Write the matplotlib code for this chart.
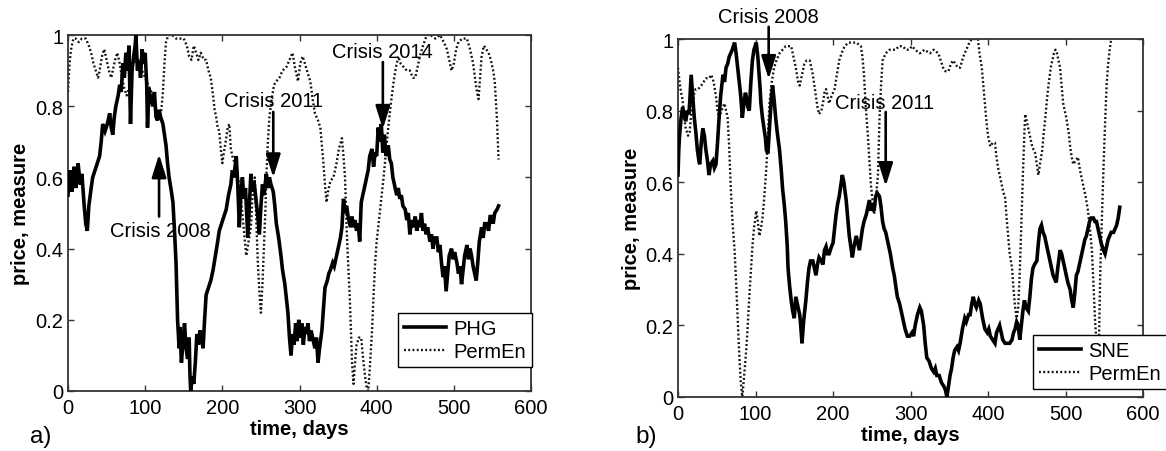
import matplotlib
matplotlib.use("Agg")
import matplotlib.pyplot as plt

plt.rcParams['font.family'] = ['Liberation Sans', 'DejaVu Sans']

# ---------------- data (day, value) ----------------
phg = [(0,0.55),(3,0.62),(5,0.56),(8,0.63),(10,0.57),(13,0.64),(16,0.58),(18,0.61),(21,0.52),(23,0.47),
       (25,0.45),(27,0.52),(30,0.57),(32,0.60),(35,0.62),(38,0.64),(41,0.66),(43,0.70),(45,0.75),(48,0.73),
       (51,0.75),(54,0.78),(56,0.74),(58,0.72),(60,0.77),(62,0.80),(65,0.83),(67,0.86),(69,0.84),(71,0.92),
       (73,0.88),(75,0.95),(77,0.90),(79,0.97),(81,0.75),(83,0.90),(85,0.94),(87,0.97),(88,1.0),(90,0.90),
       (92,0.93),(94,0.88),(96,0.96),(98,0.92),(100,0.95),(102,0.86),(103,0.74),(105,0.85),(107,0.82),(110,0.80),
       (112,0.84),(114,0.77),(116,0.76),(118,0.79),(120,0.77),(123,0.75),(125,0.72),(127,0.69),(129,0.64),(131,0.60),
       (134,0.56),(136,0.53),(138,0.45),(140,0.36),(141,0.28),(142,0.20),(144,0.12),(145,0.18),(147,0.08),(149,0.14),
       (151,0.19),(153,0.12),(155,0.09),(157,0.15),(158,0.05),(159,0.0),(161,0.04),(163,0.02),(165,0.08),(167,0.16),
       (169,0.13),(171,0.17),(173,0.15),(175,0.12),(177,0.20),(179,0.27),(182,0.29),(185,0.31),(188,0.34),(191,0.38),
       (194,0.42),(196,0.45),(199,0.47),(202,0.49),(205,0.51),(208,0.55),(211,0.58),(213,0.62),(215,0.60),(218,0.66),
       (220,0.58),(222,0.46),(224,0.55),(226,0.60),(228,0.54),(230,0.57),(233,0.43),(235,0.52),(237,0.61),(239,0.56),
       (241,0.59),(244,0.53),(246,0.49),(248,0.44),(250,0.52),(252,0.58),(254,0.55),(257,0.61),(259,0.57),(261,0.60),
       (263,0.58),(266,0.56),(268,0.52),(270,0.47),(273,0.43),(276,0.38),(278,0.34),(281,0.30),(283,0.26),(285,0.22),
       (287,0.15),(289,0.10),(291,0.16),(293,0.13),(295,0.19),(297,0.14),(299,0.20),(301,0.15),(303,0.19),(305,0.13),
       (307,0.18),(309,0.16),(311,0.19),(313,0.14),(315,0.17),(318,0.14),(320,0.12),(322,0.15),(324,0.08),(326,0.12),
       (329,0.17),(331,0.23),(333,0.29),(336,0.31),(338,0.33),(340,0.34),(343,0.36),(345,0.35),(348,0.38),(350,0.40),
       (353,0.43),(355,0.46),(357,0.54),(359,0.50),(361,0.52),(363,0.49),(366,0.46),(368,0.49),(370,0.46),(372,0.48),
       (374,0.45),(376,0.47),(378,0.42),(380,0.53),(382,0.55),(385,0.58),(387,0.60),(389,0.62),(391,0.66),(394,0.68),
       (396,0.63),(398,0.67),(400,0.66),(402,0.74),(404,0.70),(406,0.75),(408,0.67),(410,0.72),(412,0.66),(415,0.69),
       (417,0.65),(419,0.64),(421,0.60),(424,0.57),(426,0.55),(428,0.57),(430,0.54),(432,0.55),(434,0.52),(437,0.51),
       (439,0.48),(441,0.50),(443,0.44),(445,0.48),(447,0.46),(450,0.49),(452,0.45),(454,0.48),(456,0.46),(458,0.50),
       (460,0.45),(462,0.47),(464,0.44),(466,0.46),(469,0.42),(471,0.44),(473,0.40),(475,0.43),(478,0.43),(480,0.39),
       (482,0.41),(484,0.36),(486,0.32),(488,0.35),(490,0.28),(492,0.33),(494,0.38),(497,0.40),(499,0.37),(501,0.39),
       (504,0.36),(506,0.33),(508,0.35),(510,0.30),(512,0.34),(514,0.38),(517,0.41),(519,0.37),(521,0.40),(523,0.38),
       (525,0.35),(527,0.33),(529,0.31),(531,0.36),(533,0.42),(536,0.46),(538,0.43),(540,0.47),(543,0.47),(545,0.45),
       (547,0.49),(549,0.49),(551,0.47),(553,0.50),(556,0.51),(558,0.52)]

permen_a = [(0,0.84),(2,0.92),(4,0.96),(7,0.99),(10,0.99),(14,0.98),(18,0.99),(23,0.99),(27,0.97),(30,0.95),
            (33,0.92),(36,0.90),(39,0.88),(41,0.90),(44,0.94),(47,0.96),(50,0.93),(53,0.90),(56,0.88),(58,0.90),
            (61,0.93),(64,0.95),(67,0.92),(70,0.88),(73,0.85),(76,0.83),(79,0.85),(82,0.89),(85,0.93),(88,0.92),
            (92,0.91),(96,0.90),(100,0.88),(104,0.86),(108,0.84),(112,0.81),(116,0.78),(119,0.77),(121,0.79),(123,0.84),
            (125,0.92),(127,0.98),(130,1.0),(135,1.0),(140,0.99),(145,0.99),(150,0.99),(154,0.97),(157,0.94),(160,0.93),
            (163,0.97),(166,0.95),(169,0.93),(172,0.95),(176,0.93),(179,0.93),(182,0.90),(185,0.88),(188,0.83),(190,0.79),
            (192,0.77),(194,0.74),(196,0.73),(198,0.68),(200,0.64),(202,0.67),(205,0.71),(207,0.74),(209,0.75),(211,0.68),
            (213,0.66),(216,0.64),(219,0.61),(222,0.58),(225,0.52),(228,0.45),(231,0.38),(234,0.42),(237,0.46),(239,0.54),
            (242,0.60),(244,0.48),(246,0.36),(248,0.28),(250,0.22),(252,0.30),(254,0.41),(256,0.52),(257,0.60),(259,0.70),
            (261,0.77),(264,0.82),(267,0.86),(270,0.87),(274,0.88),(278,0.90),(283,0.91),(287,0.93),(291,0.95),(294,0.91),
            (298,0.87),(301,0.92),(304,0.94),(307,0.92),(311,0.89),(314,0.87),(317,0.82),(320,0.78),(324,0.76),(327,0.74),
            (329,0.69),(331,0.64),(333,0.58),(335,0.53),(337,0.56),(340,0.59),(344,0.60),(348,0.64),(351,0.68),(355,0.71),
            (357,0.66),(359,0.60),(361,0.46),(363,0.36),(365,0.27),(367,0.15),(368,0.08),(370,0.02),(372,0.08),(374,0.13),
            (377,0.15),(380,0.15),(382,0.10),(385,0.04),(387,0.01),(389,0.0),(391,0.06),(394,0.17),(396,0.27),(398,0.36),
            (400,0.42),(402,0.46),(405,0.52),(409,0.60),(412,0.67),(415,0.74),(418,0.80),(422,0.87),(425,0.91),(428,0.94),
            (431,0.92),(435,0.91),(439,0.90),(443,0.90),(447,0.88),(450,0.88),(453,0.91),(456,0.94),(460,0.97),(465,1.0),
            (470,1.0),(476,0.99),(482,1.0),(487,0.98),(491,0.96),(494,0.93),(497,0.90),(500,0.92),(503,0.96),(506,0.98),
            (511,0.99),(517,0.99),(521,0.96),(525,0.92),(528,0.87),(530,0.84),(532,0.82),(534,0.88),(536,0.94),(539,0.97),
            (542,0.96),(545,0.95),(548,0.93),(551,0.90),(553,0.87),(555,0.80),(556,0.76),(557,0.70),(558,0.65)]

sne = [(0,0.62),(1,0.69),(2,0.73),(4,0.78),(6,0.81),(8,0.79),(10,0.77),(12,0.80),(14,0.79),(15,0.82),
       (17,0.90),(19,0.84),(21,0.78),(23,0.74),(25,0.69),(27,0.66),(28,0.65),(30,0.71),(32,0.75),(34,0.73),
       (36,0.69),(38,0.66),(40,0.62),(42,0.65),(45,0.66),(47,0.64),(49,0.65),(51,0.71),(53,0.78),(55,0.84),
       (58,0.90),(60,0.88),(62,0.92),(64,0.93),(66,0.95),(68,0.96),(70,0.97),(73,0.99),(75,0.96),(77,0.92),
       (79,0.88),(81,0.84),(83,0.78),(85,0.82),(87,0.85),(88,0.84),(90,0.81),(92,0.80),(94,0.88),(96,0.94),
       (98,0.97),(101,0.99),(103,0.95),(104,0.92),(106,0.86),(107,0.82),(109,0.78),(111,0.75),(113,0.72),(114,0.69),
       (116,0.68),(118,0.75),(120,0.82),(122,0.87),(124,0.83),(126,0.78),(128,0.74),(131,0.69),(133,0.64),(135,0.58),
       (137,0.54),(139,0.49),(141,0.42),(142,0.36),(144,0.31),(146,0.27),(148,0.24),(150,0.22),(152,0.28),(154,0.26),
       (157,0.23),(158,0.21),(160,0.15),(162,0.21),(165,0.27),(167,0.32),(169,0.36),(171,0.38),(174,0.38),(176,0.36),
       (178,0.34),(180,0.37),(182,0.39),(185,0.38),(187,0.37),(189,0.41),(191,0.42),(193,0.40),(195,0.40),(198,0.42),
       (200,0.43),(202,0.47),(204,0.51),(206,0.54),(208,0.56),(210,0.59),(212,0.62),(214,0.60),(217,0.55),(219,0.50),
       (221,0.45),(223,0.42),(225,0.39),(227,0.42),(230,0.45),(232,0.43),(234,0.41),(236,0.44),(238,0.47),(240,0.49),
       (243,0.51),(245,0.53),(247,0.55),(249,0.52),(251,0.54),(253,0.52),(255,0.56),(257,0.57),(260,0.56),(262,0.53),
       (264,0.49),(266,0.47),(268,0.46),(271,0.43),(274,0.40),(277,0.36),(279,0.34),(281,0.31),(283,0.28),(286,0.26),
       (288,0.24),(290,0.22),(293,0.19),(296,0.17),(299,0.17),(302,0.18),(304,0.17),(306,0.20),(309,0.23),(312,0.25),
       (314,0.24),(317,0.20),(319,0.15),(321,0.11),(324,0.10),(327,0.08),(330,0.07),(332,0.08),(334,0.06),(337,0.06),
       (340,0.04),(343,0.03),(345,0.02),(347,0.0),(349,0.03),(351,0.06),(353,0.08),(355,0.11),(357,0.13),(360,0.14),
       (362,0.13),(364,0.15),(367,0.19),(370,0.22),(372,0.21),(375,0.23),(377,0.23),(379,0.26),(381,0.28),(383,0.26),
       (385,0.25),(388,0.27),(390,0.26),(393,0.22),(396,0.19),(399,0.18),(401,0.19),(403,0.17),(406,0.16),(409,0.15),
       (411,0.18),(413,0.19),(415,0.20),(417,0.18),(419,0.16),(422,0.15),(425,0.15),(428,0.15),(431,0.16),(433,0.18),
       (435,0.19),(437,0.21),(439,0.20),(441,0.16),(443,0.20),(445,0.24),(447,0.27),(449,0.25),(452,0.24),(454,0.28),
       (456,0.33),(458,0.36),(460,0.37),(463,0.38),(465,0.43),(467,0.47),(469,0.48),(471,0.46),(473,0.45),(476,0.42),
       (478,0.40),(480,0.38),(482,0.36),(484,0.34),(486,0.33),(488,0.32),(490,0.36),(493,0.41),(495,0.40),(497,0.38),
       (499,0.36),(501,0.34),(503,0.32),(506,0.30),(508,0.27),(510,0.25),(512,0.29),(514,0.34),(516,0.35),(519,0.38),
       (521,0.40),(523,0.42),(525,0.44),(527,0.45),(529,0.47),(531,0.49),(533,0.50),(536,0.50),(538,0.49),(540,0.49),
       (542,0.47),(544,0.45),(546,0.43),(549,0.41),(551,0.40),(553,0.42),(555,0.44),(557,0.45),(559,0.46),(562,0.46),
       (564,0.47),(566,0.48),(568,0.50),(570,0.53)]

permen_b = [(0,0.92),(2,0.88),(4,0.85),(6,0.83),(8,0.78),(10,0.75),(13,0.73),(15,0.74),(17,0.79),(19,0.82),
            (21,0.85),(23,0.86),(26,0.86),(30,0.87),(33,0.88),(36,0.89),(40,0.89),(43,0.90),(46,0.88),(49,0.84),
            (51,0.80),(53,0.78),(56,0.80),(60,0.82),(62,0.80),(64,0.78),(66,0.70),(68,0.59),(70,0.50),(73,0.41),
            (75,0.32),(77,0.22),(79,0.12),(81,0.04),(83,0.0),(85,0.05),(88,0.13),(90,0.20),(92,0.28),(94,0.35),
            (96,0.42),(98,0.47),(101,0.52),(103,0.49),(105,0.45),(107,0.47),(109,0.50),(111,0.55),(114,0.64),(116,0.73),
            (118,0.82),(121,0.88),(124,0.92),(127,0.94),(131,0.96),(135,0.97),(139,0.98),(143,0.98),(146,0.98),(149,0.95),
            (152,0.92),(155,0.88),(157,0.87),(160,0.90),(163,0.93),(166,0.94),(170,0.94),(172,0.92),(174,0.90),(176,0.87),
            (178,0.84),(180,0.81),(182,0.79),(185,0.80),(187,0.82),(189,0.85),(191,0.86),(193,0.84),(195,0.82),(198,0.84),
            (202,0.86),(205,0.90),(208,0.94),(211,0.96),(215,0.98),(220,0.99),(225,0.99),(230,0.99),(236,0.98),(238,0.95),
            (240,0.90),(242,0.82),(245,0.73),(247,0.66),(249,0.59),(251,0.55),(253,0.51),(255,0.55),(258,0.62),(260,0.78),
            (262,0.87),(264,0.94),(268,0.96),(273,0.97),(277,0.97),(281,0.97),(285,0.98),(290,0.98),(294,0.97),(298,0.97),
            (302,0.98),(306,0.97),(312,0.96),(318,0.97),(325,0.96),(330,0.97),(336,0.96),(339,0.94),(342,0.92),(345,0.91),
            (349,0.91),(352,0.93),(355,0.94),(358,0.93),(361,0.92),(364,0.92),(368,0.95),(372,0.97),(376,0.99),(379,1.0),
            (383,1.0),(387,1.0),(389,0.96),(392,0.92),(394,0.87),(396,0.82),(398,0.77),(400,0.73),(403,0.70),(406,0.71),
            (409,0.71),(411,0.67),(413,0.64),(416,0.61),(418,0.59),(420,0.57),(422,0.56),(424,0.50),(426,0.45),(428,0.40),
            (431,0.36),(433,0.30),(435,0.25),(437,0.22),(439,0.25),(441,0.35),(443,0.48),(445,0.62),(447,0.74),(448,0.79),
            (450,0.77),(452,0.75),(455,0.72),(457,0.70),(459,0.69),(461,0.68),(463,0.65),(465,0.62),(467,0.65),(470,0.69),
            (472,0.74),(474,0.78),(476,0.83),(478,0.87),(481,0.92),(485,0.96),(487,0.97),(489,0.96),(491,0.94),(493,0.92),
            (495,0.87),(497,0.82),(499,0.80),(501,0.78),(504,0.74),(506,0.70),(508,0.67),(510,0.65),(513,0.66),(516,0.67),
            (519,0.63),(521,0.61),(523,0.59),(526,0.56),(529,0.52),(532,0.46),(534,0.41),(536,0.32),(538,0.22),(540,0.15),
            (542,0.10),(543,0.14),(545,0.36),(547,0.50),(549,0.64),(551,0.76),(553,0.87),(555,0.93),(557,0.97),(559,1.0)]

x_ticks = [0, 100, 200, 300, 400, 500, 600]
y_ticks = [0, 0.2, 0.4, 0.6, 0.8, 1.0]
y_tick_labels = ['0', '0.2', '0.4', '0.6', '0.8', '1']
legend_a = ['PHG', 'PermEn']
legend_b = ['SNE', 'PermEn']

# ---------------- figure ----------------
W, H = 1166, 452
fig = plt.figure(figsize=(W / 100, H / 100), dpi=100)

def px_rect(x0, y0, x1, y1):
    return [x0 / W, 1 - y1 / H, (x1 - x0) / W, (y1 - y0) / H]

ax_a = fig.add_axes(px_rect(68, 36, 531, 392))
ax_b = fig.add_axes(px_rect(678, 40, 1143, 398))

FS = 14.5
frame_col = '#333333'

def style(ax):
    ax.set_xlim(0, 600)
    ax.set_ylim(0, 1)
    ax.set_xticks(x_ticks)
    ax.set_yticks(y_ticks)
    ax.set_yticklabels(y_tick_labels)
    ax.tick_params(direction='in', top=True, right=True, length=4.5, width=1.0,
                   color=frame_col, labelsize=FS)
    ax.tick_params(axis='x', pad=5)
    ax.tick_params(axis='y', pad=3.5)
    for s in ax.spines.values():
        s.set_linewidth(1.3)
        s.set_color(frame_col)

def draw(ax, solid, dotted, labels, leg_xy):
    d1, v1 = zip(*solid)
    d2, v2 = zip(*dotted)
    l1, = ax.plot(d1, v1, color='black', lw=2.6, solid_joinstyle='miter', zorder=3)
    l2, = ax.plot(d2, v2, color='#111111', lw=1.7, linestyle=(0, (0.8, 1.0)), zorder=2)
    style(ax)
    leg = ax.legend([l1, l2], labels, loc='upper left',
                    bbox_to_anchor=(leg_xy[0] / W, 1 - leg_xy[1] / H),
                    bbox_transform=fig.transFigure, fontsize=FS, frameon=True,
                    fancybox=False, edgecolor='black', framealpha=1,
                    borderaxespad=0, borderpad=0.3, handlelength=2.1,
                    handletextpad=0.33, labelspacing=0.2)
    leg.get_frame().set_linewidth(1.0)
    leg.set_zorder(10)

draw(ax_a, phg, permen_a, legend_a, (398, 314))
draw(ax_b, sne, permen_b, legend_b, (1033, 336))

arrow_kw = dict(arrowstyle='-|>,head_length=0.7,head_width=0.22', lw=1.9,
                color='black', shrinkA=0, shrinkB=0, mutation_scale=20)

def crisis(ax, text, tx, ty, x, y_tail, y_tip):
    ax.text(tx, ty, text, ha='center', va='center', fontsize=FS, zorder=6, clip_on=False)
    ax.annotate('', xy=(x, y_tip), xytext=(x, y_tail), arrowprops=arrow_kw,
                annotation_clip=False, zorder=6)

crisis(ax_a, 'Crisis 2008', 120, 0.452, 118, 0.49, 0.665)
crisis(ax_a, 'Crisis 2011', 266, 0.815, 266, 0.784, 0.60)
crisis(ax_a, 'Crisis 2014', 408, 0.955, 408, 0.924, 0.736)
crisis(ax_b, 'Crisis 2008', 117, 1.064, 117, 1.034, 0.888)
crisis(ax_b, 'Crisis 2011', 267, 0.824, 268, 0.796, 0.589)

# axis labels and panel letters
fig.text(299.5 / W, 1 - 430 / H, 'time, days', ha='center', va='center', fontsize=FS, fontweight='bold')
fig.text(910 / W, 1 - 436 / H, 'time, days', ha='center', va='center', fontsize=FS, fontweight='bold')
fig.text(21 / W, 1 - 214 / H, 'price, measure', ha='center', va='center', rotation=90, fontsize=FS, fontweight='bold')
fig.text(631 / W, 1 - 219 / H, 'price, measure', ha='center', va='center', rotation=90, fontsize=FS, fontweight='bold')
fig.text(41 / W, 1 - 437 / H, 'a)', ha='center', va='center', fontsize=17.5)
fig.text(646 / W, 1 - 437 / H, 'b)', ha='center', va='center', fontsize=17.5)

fig.savefig('out.png', dpi=100, facecolor='white')
